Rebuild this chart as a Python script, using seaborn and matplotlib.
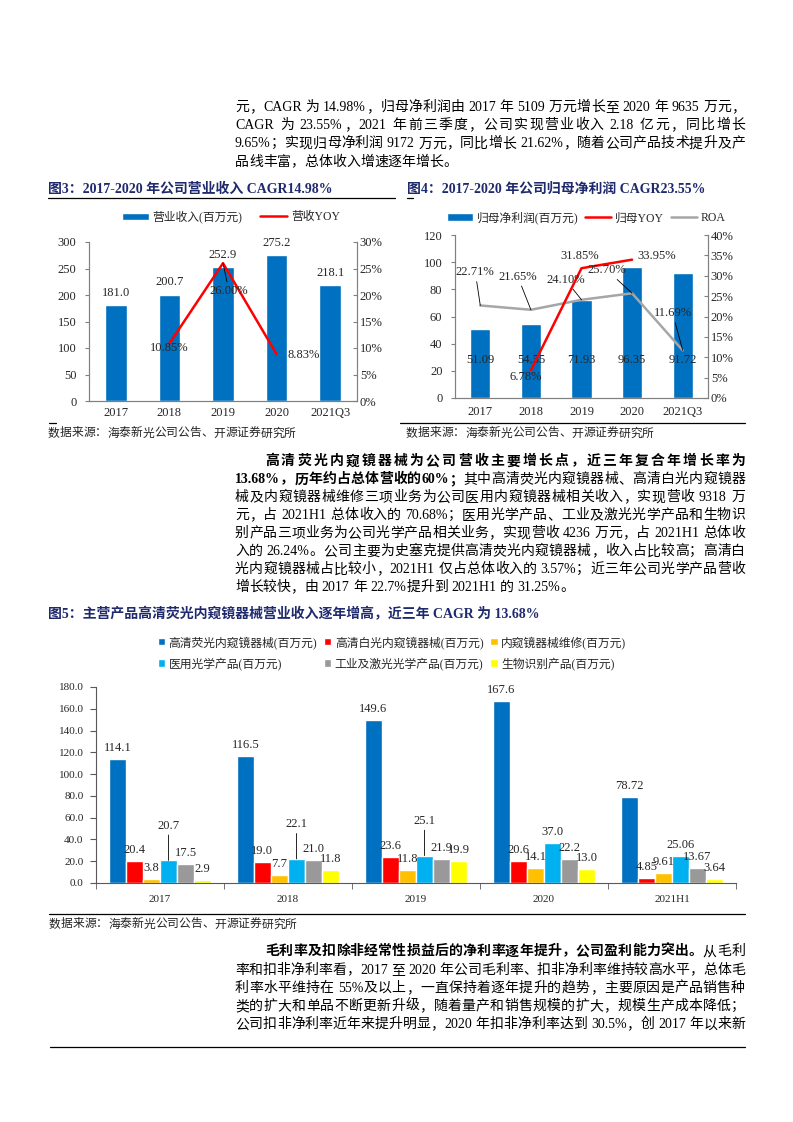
import re
import numpy as np
import pandas as pd
import matplotlib
matplotlib.use('Agg')
import matplotlib.pyplot as plt
from matplotlib.patches import Patch
from matplotlib.lines import Line2D
from matplotlib.ticker import FuncFormatter
import seaborn as sns

# ---- data ----
years_a = ['2017', '2018', '2019', '2020', '2021Q3']
revenue = [181.0, 200.7, 252.9, 275.2, 218.1]
rev_yoy_years = ['2018', '2019', '2020']
rev_yoy = [10.85, 26.00, 8.83]

net_profit = [51.09, 54.55, 71.93, 96.35, 91.72]
profit_yoy_years = ['2018', '2019', '2020']
profit_yoy = [6.78, 31.85, 33.95]
roa = [22.71, 21.65, 24.10, 25.70, 11.69]

years_b = ['2017', '2018', '2019', '2020', '2021H1']
products = ['高清荧光内窥镜器械(百万元)', '高清白光内窥镜器械(百万元)', '内窥镜器械维修(百万元)',
            '医用光学产品(百万元)', '工业及激光光学产品(百万元)', '生物识别产品(百万元)']
fluo_endo = [114.1, 116.5, 149.6, 167.6, 78.72]
white_endo = [20.4, 19.0, 23.6, 20.6, 4.85]
endo_repair = [3.8, 7.7, 11.8, 14.1, 9.61]
medical_optics = [20.7, 22.1, 25.1, 37.0, 25.06]
industrial_optics = [17.5, 21.0, 21.9, 22.2, 13.67]
biometric = [2.9, 11.8, 19.9, 13.0, 3.64]
product_values = [fluo_endo, white_endo, endo_repair, medical_optics, industrial_optics, biometric]

source = '数据来源：海泰新光公司公告、开源证券研究所'
title3 = '图3：2017-2020 年公司营业收入 CAGR14.98%'
title4 = '图4：2017-2020 年公司归母净利润 CAGR23.55%'
title5 = '图5：主营产品高清荧光内窥镜器械营业收入逐年增高，近三年 CAGR 为 13.68%'

para1 = [
    [('元，CAGR 为 14.98%，归母净利润由 2017 年 5109 万元增长至 2020 年 9635 万元，', False)],
    [('CAGR 为 23.55%，2021 年前三季度，公司实现营业收入 2.18 亿元，同比增长', False)],
    [('9.65%；实现归母净利润 9172 万元，同比增长 21.62%，随着公司产品技术提升及产', False)],
    [('品线丰富，总体收入增速逐年增长。', False)],
]
para2 = [
    [('高清荧光内窥镜器械为公司营收主要增长点，近三年复合年增长率为', True)],
    [('13.68%，历年约占总体营收的60%；', True), ('其中高清荧光内窥镜器械、高清白光内窥镜器', False)],
    [('械及内窥镜器械维修三项业务为公司医用内窥镜器械相关收入，实现营收 9318 万', False)],
    [('元，占 2021H1 总体收入的 70.68%；医用光学产品、工业及激光光学产品和生物识', False)],
    [('别产品三项业务为公司光学产品相关业务，实现营收 4236 万元，占 2021H1 总体收', False)],
    [('入的 26.24%。公司主要为史塞克提供高清荧光内窥镜器械，收入占比较高；高清白', False)],
    [('光内窥镜器械占比较小，2021H1 仅占总体收入的 3.57%；近三年公司光学产品营收', False)],
    [('增长较快，由 2017 年 22.7%提升到 2021H1 的 31.25%。', False)],
]
para3 = [
    [('毛利率及扣除非经常性损益后的净利率逐年提升，公司盈利能力突出。', True), ('从毛利', False)],
    [('率和扣非净利率看，2017 至 2020 年公司毛利率、扣非净利率维持较高水平，总体毛', False)],
    [('利率水平维持在 55%及以上，一直保持着逐年提升的趋势，主要原因是产品销售种', False)],
    [('类的扩大和单品不断更新升级，随着量产和销售规模的扩大，规模生产成本降低；', False)],
    [('公司扣非净利率近年来提升明显，2020 年扣非净利率达到 30.5%，创 2017 年以来新', False)],
]

# ---- style ----
W, H = 793, 1122
FAM = ['Liberation Serif', 'Noto Sans CJK SC']
NAVY = '#1f2a6e'
BLUE = '#0070c0'
RED = '#ff0000'
GRAY = '#a6a6a6'
AXC = '#808080'
colors5 = [BLUE, '#ff0000', '#ffc000', '#00b0f0', '#999999', '#ffff00']

sns.set_style('ticks')
plt.rcParams['font.family'] = FAM
plt.rcParams['axes.unicode_minus'] = False

fig = plt.figure(figsize=(W / 100, H / 100), dpi=100)
renderer = fig.canvas.get_renderer()


def fx(x):
    return x / W


def fy(y):
    return 1 - y / H


def add_ax(x0, y0, x1, y1):
    return fig.add_axes([x0 / W, 1 - y1 / H, (x1 - x0) / W, (y1 - y0) / H])


def hline(x0, x1, y, lw=0.9):
    fig.add_artist(Line2D([fx(x0), fx(x1)], [fy(y), fy(y)], color='black', lw=lw))


def put_line(y, parts, x0=235, x1=745, size=10, justify=True, color='black'):
    """one text line, tokens placed one by one so the line can be justified"""
    em = size * 100 / 72
    toks = []
    for s, bold in parts:
        for m in re.finditer(r'[\x21-\x7e]+| |.', s):
            toks.append((m.group(), bold))
    arts, widths = [], []
    for tok, bold in toks:
        if tok == ' ':
            arts.append(None)
            widths.append(0.25 * em)
            continue
        t = fig.text(0, fy(y + 0.38 * em), tok, fontsize=size, family=FAM, color=color,
                     weight='bold' if bold else 'normal', ha='left', va='baseline')
        w = em if ord(tok[0]) > 0x2e7f else t.get_window_extent(renderer).width
        arts.append(t)
        widths.append(w)
    gap = 0
    if justify and len(toks) > 1:
        gap = (x1 - x0 - sum(widths)) / (len(toks) - 1)
    x = x0
    for t, w in zip(arts, widths):
        if t is not None:
            t.set_x(fx(x))
        x += w + gap


def put_para(lines, y0, step, first_x=235):
    for i, parts in enumerate(lines):
        x0 = first_x if i == 0 else 235
        put_line(y0 + i * step, parts, x0=x0, justify=(i < len(lines) - 1) or len(lines) == 5)


pct = FuncFormatter(lambda v, p: f'{v:.0f}%')

# ---- page text ----
put_para(para1, 105.5, 18.3)
put_para(para2, 460, 18.0, first_x=265)
put_para(para3, 950, 18.25, first_x=265)

fig.text(fx(48), fy(189), title3, fontsize=10, weight='bold', color=NAVY, va='center', family=FAM)
fig.text(fx(407), fy(189), title4, fontsize=10, weight='bold', color=NAVY, va='center', family=FAM)
fig.text(fx(48), fy(614), title5, fontsize=10, weight='bold', color=NAVY, va='center', family=FAM)
hline(48, 395, 198)
hline(407, 413, 198)
hline(49, 56, 423)
hline(400, 745, 423)
hline(49, 745, 914)
hline(50, 745, 1047)
put_line(432, [(source, False)], x0=48, size=8.5, justify=False, color='#222222')
put_line(432, [(source, False)], x0=406, size=8.5, justify=False, color='#222222')
put_line(923, [(source, False)], x0=49, size=8.5, justify=False, color='#222222')

# ---- chart 3 : revenue ----
ax3 = add_ax(89, 242, 357, 401)
df3 = pd.DataFrame({'year': years_a, 'revenue': revenue})
sns.barplot(data=df3, x='year', y='revenue', color=BLUE, saturation=1, width=0.4, ax=ax3)
ax3.set_ylim(0, 300)
ax3.set_yticks(range(0, 301, 50))
ax3.set_xlabel('')
ax3.set_ylabel('')
for p, v in zip(ax3.patches, revenue):
    ax3.annotate(f'{v:.1f}', (p.get_x() + p.get_width() / 2, v), xytext=(0, 4.5),
                 textcoords='offset points', ha='center', va='bottom', fontsize=9)
ax3b = ax3.twinx()
sns.lineplot(x=[years_a.index(y) for y in rev_yoy_years], y=rev_yoy, color=RED, lw=1.8, ax=ax3b)
ax3b.set_ylim(0, 30)
ax3b.set_yticks(range(0, 31, 5))
ax3b.yaxis.set_major_formatter(pct)
rev_label_off = [(0, -3.6), (4.3, -20), (19.4, -0.7)]
for y, v, off in zip(rev_yoy_years, rev_yoy, rev_label_off):
    arrow = dict(arrowstyle='-', color='black', lw=0.6, shrinkA=0, shrinkB=0) if off[1] < -10 else None
    ax3b.annotate(f'{v:.2f}%', (years_a.index(y), v), xytext=off, textcoords='offset points',
                  ha='center', va='center', fontsize=9, arrowprops=arrow)
ax3.set_xlim(-0.5, 4.5)

# ---- chart 4 : net profit ----
ax4 = add_ax(455, 235, 708, 398)
df4 = pd.DataFrame({'year': years_a, 'profit': net_profit})
sns.barplot(data=df4, x='year', y='profit', color=BLUE, saturation=1, width=0.4, ax=ax4)
ax4.set_ylim(0, 120)
ax4.set_yticks(range(0, 121, 20))
ax4.set_xlabel('')
ax4.set_ylabel('')
for i, v in enumerate(net_profit):
    ax4.text(i, 28, f'{v:.2f}', ha='center', va='center', fontsize=9)
ax4b = ax4.twinx()
sns.lineplot(x=range(len(years_a)), y=roa, color=GRAY, lw=1.8, ax=ax4b)
sns.lineplot(x=[years_a.index(y) for y in profit_yoy_years], y=profit_yoy, color=RED, lw=1.8, ax=ax4b)
ax4b.set_ylim(0, 40)
ax4b.set_yticks(range(0, 41, 5))
ax4b.yaxis.set_major_formatter(pct)
roa_label_off = [(-3.6, 23.8), (-9.4, 23.8), (-11.5, 14.4), (-18, 16.6), (-7.2, 26.6)]
for i, (v, off) in enumerate(zip(roa, roa_label_off)):
    ax4b.annotate(f'{v:.2f}%', (i, v), xytext=off, textcoords='offset points', ha='center', va='center',
                  fontsize=9, arrowprops=dict(arrowstyle='-', color='black', lw=0.6, shrinkA=0, shrinkB=0))
yoy_label_off = [(-3.6, -5), (-1.4, 8.6), (18, 2.9)]
for y, v, off in zip(profit_yoy_years, profit_yoy, yoy_label_off):
    ax4b.annotate(f'{v:.2f}%', (years_a.index(y), v), xytext=off, textcoords='offset points',
                  ha='center', va='center', fontsize=9)
ax4.set_xlim(-0.5, 4.5)

for ax, axb, xpad in [(ax3, ax3b, 4.5), (ax4, ax4b, 5.5)]:
    for a in (ax, axb):
        a.spines['top'].set_visible(False)
        for s in ('left', 'right', 'bottom'):
            a.spines[s].set_color(AXC)
            a.spines[s].set_linewidth(0.8)
        a.set_ylabel('')
    ax.tick_params(axis='x', length=0, labelsize=9, pad=xpad)
    ax.tick_params(axis='y', length=3, labelsize=9, pad=6, color=AXC, direction='out')
    axb.tick_params(axis='y', length=3, labelsize=9, pad=2, color=AXC, direction='in')

h3 = [Patch(facecolor=BLUE), Line2D([], [], color=RED, lw=1.8)]
ax3.legend(h3, ['营业收入(百万元)', '营收YOY'], loc='center', bbox_to_anchor=(fx(231), fy(217)),
           bbox_transform=fig.transFigure, ncol=2, frameon=False, fontsize=8.5, handlelength=2.3,
           handleheight=0.6, handletextpad=0.3, columnspacing=1.5)
h4 = [Patch(facecolor=BLUE), Line2D([], [], color=RED, lw=1.8), Line2D([], [], color=GRAY, lw=1.8)]
ax4.legend(h4, ['归母净利润(百万元)', '归母YOY', 'ROA'], loc='center', bbox_to_anchor=(fx(586), fy(218)),
           bbox_transform=fig.transFigure, ncol=3, frameon=False, fontsize=8.5, handlelength=2.2,
           handleheight=0.6, handletextpad=0.3, columnspacing=0.6)

# ---- chart 5 : product revenue ----
ax5 = add_ax(96, 687, 736, 883)
df5 = pd.DataFrame({
    'year': years_b * len(products),
    'product': np.repeat(products, len(years_b)),
    'value': np.concatenate(product_values),
})
sns.barplot(data=df5, x='year', y='value', hue='product', hue_order=products, palette=colors5,
            saturation=1, width=0.8, legend=False, ax=ax5)
ax5.set_ylim(0, 180)
ax5.set_yticks(range(0, 181, 20))
ax5.set_yticklabels([f'{v:.1f}' for v in range(0, 181, 20)])
ax5.set_xlim(-0.5, 4.5)
ax5.set_xticks(np.arange(-0.5, 5, 1), minor=True)
ax5.set_xlabel('')
ax5.set_ylabel('')
for s in ('top', 'right'):
    ax5.spines[s].set_visible(False)
for s in ('left', 'bottom'):
    ax5.spines[s].set_color('#595959')
    ax5.spines[s].set_linewidth(0.8)
ax5.tick_params(axis='x', which='major', length=0, labelsize=8, pad=9)
ax5.tick_params(axis='x', which='minor', length=4, color='#595959', direction='out')
ax5.tick_params(axis='y', length=4, labelsize=8, pad=5, color='#595959', direction='out')

for k, (cont, vals) in enumerate(zip(ax5.containers, product_values)):
    for j, (bar, v) in enumerate(zip(cont, vals)):
        label = f'{v:.2f}' if j == len(years_b) - 1 else f'{v:.1f}'
        cx = bar.get_x() + bar.get_width() / 2
        if k == 3 and j < 3:
            ax5.annotate(label, (cx, v), xytext=(0, 25), textcoords='offset points', ha='center',
                         va='center', fontsize=9,
                         arrowprops=dict(arrowstyle='-', color='black', lw=0.6, shrinkA=0, shrinkB=0))
        else:
            ax5.annotate(label, (cx, v), xytext=(0, 3.5), textcoords='offset points', ha='center',
                         va='bottom', fontsize=9)

order = [0, 3, 1, 4, 2, 5]
h5 = [Patch(facecolor=colors5[i]) for i in order]
ax5.legend(h5, [products[i] for i in order], loc='center', bbox_to_anchor=(fx(392), fy(653)),
           bbox_transform=fig.transFigure, ncol=3, frameon=False, fontsize=8.5, handlelength=0.6,
           handleheight=0.6, handletextpad=0.3, columnspacing=0.6, labelspacing=0.7)

fig.savefig('out.png', dpi=100)
